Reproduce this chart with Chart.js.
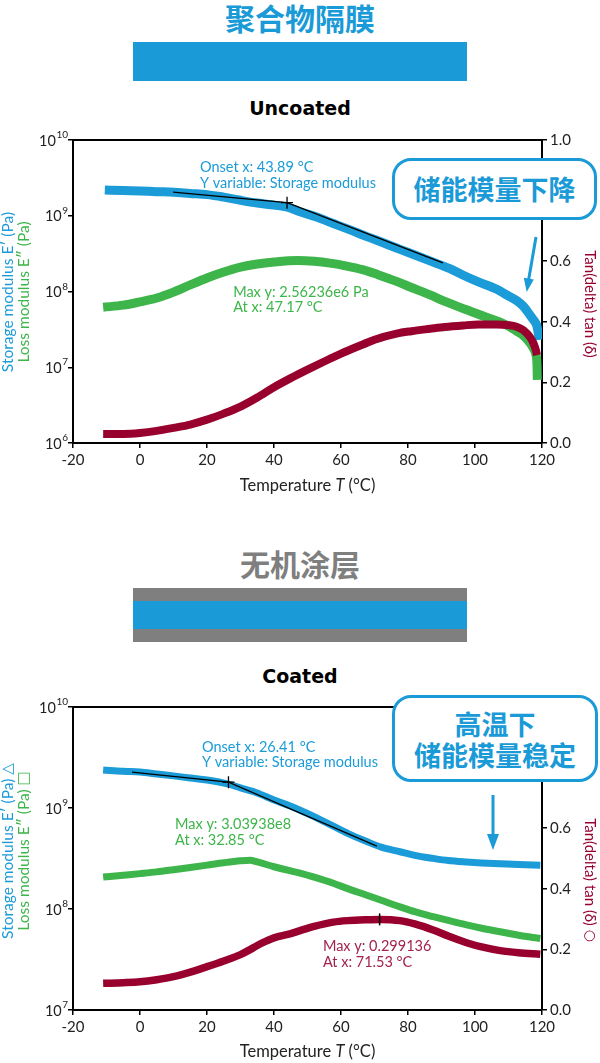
<!DOCTYPE html>
<html><head><meta charset="utf-8">
<script src="https://cdn.jsdelivr.net/npm/chart.js@4.4.1/dist/chart.umd.min.js"></script>
<style>
html,body{margin:0;padding:0;background:#fff;}
#page{position:relative;width:600px;height:1063px;overflow:hidden;font-family:Lato,"Noto Sans",sans-serif;}
.abs{position:absolute;}
.cjk{font-family:"Noto Sans CJK SC",sans-serif;font-weight:700;text-align:center;white-space:nowrap;}
.sub{font-family:"DejaVu Sans",sans-serif;font-weight:700;text-align:center;color:#000;}
.callout{position:absolute;box-sizing:border-box;border:3.5px solid #1a9ad6;border-radius:19px;background:#fff;color:#1a9ad6;font-family:"Noto Sans CJK SC",sans-serif;font-weight:700;font-size:27px;text-align:center;white-space:nowrap;z-index:2;}
canvas{position:absolute;left:0;}
svg{position:absolute;left:0;top:0;z-index:3;pointer-events:none;}
</style></head>
<body><div id="page">
<div class="abs cjk" style="left:0;width:600px;top:0;height:34px;line-height:34px;font-size:30px;color:#1a9ad6">聚合物隔膜</div>
<div class="abs" style="left:133px;top:42px;width:334px;height:39px;background:#1a9ad6"></div>
<div class="abs sub" style="left:0;width:600px;top:97px;height:22px;line-height:22px;font-size:19px">Uncoated</div>
<canvas id="c1" width="600" height="380" style="top:125px"></canvas>
<div class="callout" style="left:392px;top:158px;width:205px;height:62px;line-height:55px">储能模量下降</div>

<div class="abs cjk" style="left:0;width:600px;top:546px;height:34px;line-height:34px;font-size:30px;color:#7f7f7f">无机涂层</div>
<div class="abs" style="left:133px;top:588px;width:334px;height:54px;background:#7f7f7f"></div>
<div class="abs" style="left:133px;top:601px;width:334px;height:28px;background:#1a9ad6"></div>
<div class="abs sub" style="left:0;width:600px;top:665px;height:22px;line-height:22px;font-size:19px">Coated</div>
<canvas id="c2" width="600" height="371" style="top:692px"></canvas>
<div class="callout" style="left:392px;top:695px;width:206px;height:87px;line-height:31px;padding-top:10px">高温下<br>储能模量稳定</div>

<svg width="600" height="1063">
  <line x1="536" y1="237" x2="528.6" y2="280" stroke="#1a9ad6" stroke-width="3"/>
  <polygon points="526.7,292 533.8,279.5 523.8,277.8" fill="#1a9ad6"/>
  <line x1="493" y1="795" x2="493" y2="836" stroke="#1a9ad6" stroke-width="3"/>
  <polygon points="493,850 487,834 499,834" fill="#1a9ad6"/>
</svg>
</div>
<script>
// ---------- DATA: Uncoated ----------
const topStorageT = [-10.5,-5,0,5,10,15,20,25,30,35,40,44,48,52.7,57.7,62.7,67.7,72.6,77.6,82.6,87.5,92.5,96.5,101,106.5,109.5,112.4,114.4,116.4,117.5,118.4,118.9,119.2];
const topStorage  = [2.19e9,2.15e9,2.12e9,2.08e9,2.05e9,1.97e9,1.9e9,1.76e9,1.6e9,1.47e9,1.38e9,1.3e9,1.12e9,9.6e8,7.9e8,6.5e8,5.3e8,4.4e8,3.6e8,2.97e8,2.44e8,2.0e8,1.64e8,1.34e8,1.07e8,9.0e7,7.6e7,6.4e7,4.9e7,4.2e7,3.6e7,2.8e7,2.3e7];
const topLossT = [-11,-5,0,5,10,15,20,25,30,35,40,47.17,52,56.7,61,66.7,71,76.6,81,86.6,91,96.5,101,106.5,110,112.4,114.5,116.4,117.5,118.2,118.5,118.6];
const topLoss  = [6.2e7,6.6e7,7.3e7,8.2e7,9.8e7,1.22e8,1.51e8,1.81e8,2.1e8,2.31e8,2.45e8,2.56e8,2.5e8,2.37e8,2.2e8,1.93e8,1.67e8,1.36e8,1.13e8,9.0e7,7.4e7,5.95e7,5.0e7,4.1e7,3.5e7,3.0e7,2.6e7,2.1e7,1.75e7,1.45e7,1.1e7,6.8e6];
const topTanT = [-11,-5,0,5,10,15,20,25,30,35,40,45,50,55,60,66.7,70,76.6,81,86.6,91,96.5,101,106.5,110,112.4,114.5,116.4,117.5,118.2,118.5];
const topTan  = [0.030,0.030,0.033,0.040,0.050,0.061,0.077,0.097,0.120,0.150,0.184,0.214,0.242,0.269,0.295,0.326,0.341,0.361,0.369,0.377,0.383,0.388,0.391,0.391,0.389,0.384,0.372,0.350,0.328,0.305,0.290];
const topOnsetT = [9.9, 43.89, 90.4];
const topOnsetE = [2.05e9, 1.49e9, 2.38e8];

// ---------- DATA: Coated ----------
const botStorageT = [-11,-5,0,5,10,15,20,26.4,30,35,40,45,47.8,52,57.7,62,67.7,72,77.6,82,87.5,92,97.5,102,107.5,113,119.5];
const botStorage  = [2.38e9,2.31e9,2.27e9,2.17e9,2.08e9,1.98e9,1.89e9,1.72e9,1.58e9,1.41e9,1.2e9,1.04e9,9.5e8,8.2e8,6.6e8,5.6e8,4.65e8,4.1e8,3.69e8,3.4e8,3.17e8,3.02e8,2.92e8,2.86e8,2.81e8,2.76e8,2.71e8];
const botLossT = [-11,-5,0,5,10,15,20,25,30,32.85,35,40,45,47.8,52,57.7,62,67.7,72,77.6,82,87.5,92,97.5,102,107.5,113,119.5];
const botLoss  = [2.07e8,2.16e8,2.24e8,2.33e8,2.45e8,2.58e8,2.72e8,2.87e8,3.0e8,3.04e8,2.93e8,2.62e8,2.38e8,2.27e8,2.07e8,1.8e8,1.59e8,1.37e8,1.22e8,1.05e8,9.4e7,8.4e7,7.7e7,6.95e7,6.45e7,5.96e7,5.5e7,5.1e7];
const botTanT = [-11,-5,0,5,10,15,20,25,30,33,35,37.8,40,45,47.8,52,57.7,62,67.7,71.53,77.6,82,87.5,92,97.5,102,107.5,113,119.5];
const botTan  = [0.088,0.090,0.093,0.100,0.110,0.125,0.143,0.162,0.183,0.200,0.213,0.228,0.238,0.252,0.262,0.276,0.290,0.295,0.298,0.299,0.295,0.284,0.264,0.244,0.222,0.208,0.196,0.189,0.184];
const botOnsetT = [-2.4, 26.41, 70.7];
const botOnsetE = [2.27e9, 1.8e9, 4.2e8];
const botMaxTanT = [71.53];
const botMaxTan  = [0.299];

// ---------- TICKS ----------
const xTicks = [-20,0,20,40,60,80,100,120];
const topLogExps = [6,7,8,9,10];
const botLogExps = [7,8,9,10];
const rightTicks = [0,0.2,0.4,0.6,0.8,1.0];

const BLUE = '#1b9bd7', GREEN = '#3db54a', RED = '#98002e', FONT = 'Lato, "Noto Sans", sans-serif';
const SYMFONT = '"DejaVu Sans", sans-serif';

function pts(xs, ys){ return xs.map((x,i)=>({x:x, y:ys[i]})); }

function drawRun(ctx, segs){
  let w = 0;
  segs.forEach(s=>{ ctx.font = s[1]; w += ctx.measureText(s[0]).width; });
  let x = -w/2; ctx.textAlign = 'left';
  segs.forEach(s=>{ ctx.font = s[1]; ctx.fillText(s[0], x, s[2]||0); x += ctx.measureText(s[0]).width; });
}

const decor = {
  id:'decor',
  afterDraw(chart){
    const o = chart.options.plugins.decor;
    const {ctx, chartArea:a, scales} = chart;
    ctx.save();
    ctx.strokeStyle = '#000'; ctx.lineWidth = 2;
    ctx.beginPath(); ctx.moveTo(a.left-1, a.top); ctx.lineTo(a.right+1, a.top); ctx.stroke();
    ctx.fillStyle = '#222'; ctx.textBaseline = 'middle';
    o.exps.forEach(e=>{
      const y = scales.y.getPixelForValue(Math.pow(10,e));
      ctx.font = '10px ' + FONT;
      const es = String(e); const ew = ctx.measureText(es).width;
      ctx.textAlign = 'right';
      ctx.fillText(es, a.left - 5, y - 5);
      ctx.font = '14.5px ' + FONT;
      ctx.fillText('10', a.left - 5 - ew - 0.5, y + 1);
    });
    ctx.save(); ctx.translate((a.left + a.right)/2, a.bottom + o.xTitleDy); ctx.fillStyle = '#222';
    drawRun(ctx, [['Temperature ', '16.5px '+FONT], ['T', 'italic 16.5px '+FONT], [' (°C)', '16.5px '+FONT]]);
    ctx.restore();
    [[o.leftTitle1, BLUE, 8], [o.leftTitle2, GREEN, 24]].forEach(t=>{
      ctx.save(); ctx.translate(t[2], a.top + o.leftTitleDy); ctx.rotate(-Math.PI/2);
      ctx.fillStyle = t[1]; drawRun(ctx, t[0]); ctx.restore();
    });
    ctx.save(); ctx.translate(590, a.top + o.rightTitleDy); ctx.rotate(Math.PI/2);
    ctx.fillStyle = RED; drawRun(ctx, o.rightTitle); ctx.restore();
    ctx.font = '14.5px ' + FONT; ctx.textAlign = 'left'; ctx.textBaseline = 'middle';
    o.notes.forEach(n=>{
      const px = scales.x.getPixelForValue(n.x);
      const py = scales[n.axis].getPixelForValue(n.y);
      ctx.fillStyle = n.color;
      n.lines.forEach((l,i)=> ctx.fillText(l, px, py + i*n.gap));
    });
    ctx.restore();
  }
};

function makeChart(id, H, cfg){
  const gridCfg = {display:true, drawOnChartArea:false, drawTicks:true, tickLength:5, color:'#000', lineWidth:1.5};
  const borderCfg = {display:true, color:'#000', width:2};
  const datasets = [
    {label:'tangent', data:pts(cfg.onsetT, cfg.onsetE), yAxisID:'y', borderColor:'#000', borderWidth:1.3, pointRadius:0, tension:0, order:0},
    {label:'onset', data:pts([cfg.onsetT[1]],[cfg.onsetE[1]]), yAxisID:'y', showLine:false, pointStyle:'cross', pointRadius:6, pointBorderColor:'#000', pointBorderWidth:1.3, order:0},
    {label:'tan', data:pts(cfg.tanT, cfg.tan), yAxisID:'y1', borderColor:RED, borderWidth:cfg.w[2], pointRadius:0, cubicInterpolationMode:'monotone', order:1},
    {label:'storage', data:pts(cfg.storT, cfg.stor), yAxisID:'y', borderColor:BLUE, borderWidth:cfg.w[0], pointRadius:0, cubicInterpolationMode:'monotone', order:2},
    {label:'loss', data:pts(cfg.lossT, cfg.loss), yAxisID:'y', borderColor:GREEN, borderWidth:cfg.w[1], pointRadius:0, cubicInterpolationMode:'monotone', order:3}
  ];
  if (cfg.maxT) datasets.push({label:'max', data:pts(cfg.maxT, cfg.maxV), yAxisID:'y1', showLine:false, pointStyle:'line', rotation:90, pointRadius:6, pointBorderColor:'#000', pointBorderWidth:1.5, order:0});
  return new Chart(document.getElementById(id), {
    type:'line',
    data:{datasets},
    options:{
      responsive:false, animation:false, devicePixelRatio:1,
      layout:{padding:{top:15, left:0, right:0, bottom:0}},
      plugins:{legend:{display:false}, tooltip:{enabled:false}, decor:cfg.decor},
      scales:{
        x:{type:'linear', min:-20, max:120, grid:gridCfg, border:borderCfg,
           afterBuildTicks:s=>{ s.ticks = xTicks.map(v=>({value:v})); },
           afterFit:s=>{ s.height = H - 15 - 303; },
           ticks:{font:{family:FONT, size:15}, color:'#222', padding:3, maxRotation:0, autoSkip:false}},
        y:{type:'logarithmic', position:'left', min:Math.pow(10,cfg.decor.exps[0]), max:1e10, grid:gridCfg, border:borderCfg,
           afterBuildTicks:s=>{ s.ticks = cfg.decor.exps.map(e=>({value:Math.pow(10,e), major:true})); },
           afterFit:s=>{ s.width = 73; },
           ticks:{callback:()=>'', padding:0}},
        y1:{type:'linear', position:'right', min:0, max:1, grid:gridCfg, border:borderCfg,
           afterBuildTicks:s=>{ s.ticks = rightTicks.map(v=>({value:v})); },
           afterFit:s=>{ s.width = 58; },
           ticks:{callback:v=>Number(v).toFixed(1), font:{family:FONT, size:15}, color:'#222', padding:3}}
      }
    },
    plugins:[decor]
  });
}

const TF = '15.5px ' + FONT;
makeChart('c1', 380, {
  storT:topStorageT, stor:topStorage, lossT:topLossT, loss:topLoss, tanT:topTanT, tan:topTan,
  onsetT:topOnsetT, onsetE:topOnsetE, w:[9,9,8],
  decor:{exps:topLogExps, xTitleDy:43, leftTitleDy:152, rightTitleDy:164,
    leftTitle1:[['Storage modulus E′ (Pa)', TF]], leftTitle2:[['Loss modulus E″ (Pa)', TF]],
    rightTitle:[['Tan(delta) tan (δ)', '15px '+FONT]],
    notes:[
      {x:17.9, y:4.41e9, axis:'y', color:BLUE, gap:16, lines:['Onset x: 43.89 °C','Y variable: Storage modulus']},
      {x:27.8, y:9.85e7, axis:'y', color:GREEN, gap:15, lines:['Max y: 2.56236e6 Pa','At x: 47.17 °C']}
    ]}
});

makeChart('c2', 371, {
  storT:botStorageT, stor:botStorage, lossT:botLossT, loss:botLoss, tanT:botTanT, tan:botTan,
  onsetT:botOnsetT, onsetE:botOnsetE, maxT:botMaxTanT, maxV:botMaxTan, w:[7,7,7.5],
  decor:{exps:botLogExps, xTitleDy:42, leftTitleDy:144, rightTitleDy:173,
    leftTitle1:[['Storage modulus E′ (Pa) ', TF], ['△', '15px '+SYMFONT, 0]],
    leftTitle2:[['Loss modulus E″ (Pa) ', TF], ['□', '15px '+SYMFONT, 0]],
    rightTitle:[['Tan(delta) tan (δ) ', '15px '+FONT], ['○', '14px '+SYMFONT, 0]],
    notes:[
      {x:18.5, y:4.02e9, axis:'y', color:BLUE, gap:15, lines:['Onset x: 26.41 °C','Y variable: Storage modulus']},
      {x:10.45, y:6.95e8, axis:'y', color:GREEN, gap:16, lines:['Max y: 3.03938e8','At x: 32.85 °C']},
      {x:54.6, y:0.209, axis:'y1', color:'#a3234f', gap:16, lines:['Max y: 0.299136','At x: 71.53 °C']}
    ]}
});
</script>
</body></html>
